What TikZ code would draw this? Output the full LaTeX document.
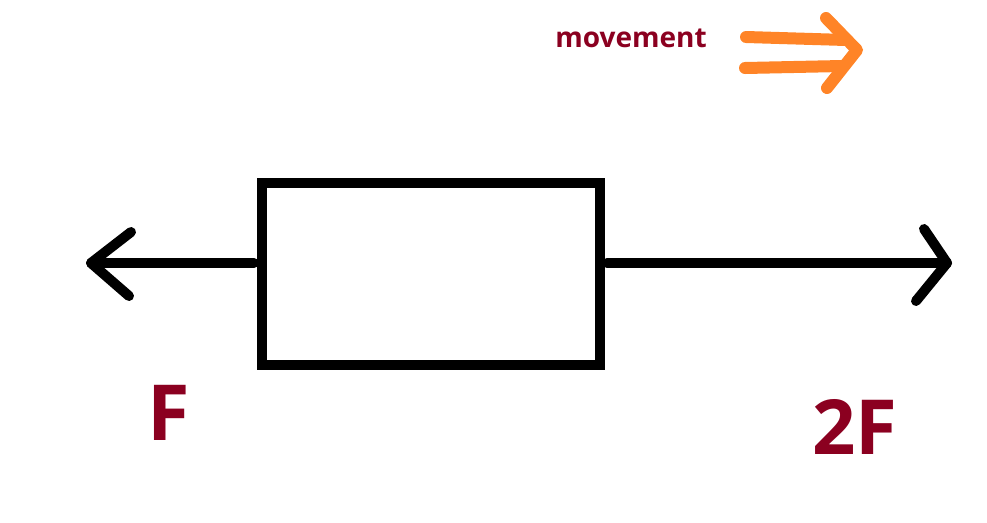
\documentclass[tikz,border=0pt]{standalone}
\usepackage{fontspec}
\setmainfont{Open Sans}
\definecolor{darkred}{RGB}{139,0,32}
\definecolor{movorange}{RGB}{255,132,39}
\tikzset{
  blk/.style={line width=7.5pt, line cap=round, line join=round, draw=black},
  boxst/.style={draw=black, line width=7pt, minimum width=338*0.75pt, minimum height=182*0.75pt, inner sep=0pt},
  org/.style={line width=9pt, line cap=round, line join=round, draw=movorange},
  lbl/.style={text=darkred, font=\bfseries, inner sep=0pt},
}
\begin{document}
\begin{tikzpicture}[x=0.75pt,y=-0.75pt]
\useasboundingbox (0,0) rectangle (987,522);
\node[boxst] (box) at (431,274) {};
% left arrow
\coordinate (ltip) at (91,263);
\coordinate (lup) at (131,232);
\coordinate (llo) at (129,296);
\coordinate (lst) at (254,263);
\draw[blk] (lst) -- (ltip);
\draw[blk] (lup) -- (ltip) -- (llo);
% right arrow
\coordinate (rst) at (607,263);
\coordinate (rtip) at (947,263);
\coordinate (rup) at (924,229);
\coordinate (rlo) at (916,301);
\draw[blk] (rst) -- (rtip);
\draw[blk] (rup) -- (rtip) -- (rlo);
% movement arrow
\coordinate (m1s) at (746,37);
\coordinate (m1e) at (846,40);
\coordinate (m2s) at (745,68);
\coordinate (m2e) at (842,66);
\coordinate (mup) at (826,18);
\coordinate (mtip) at (857,50);
\coordinate (mlo) at (827,88);
\draw[org] (m1s) -- (m1e);
\draw[org] (m2s) -- (m2e);
\draw[org] (mup) -- (mtip) -- (mlo);
\node[lbl, font=\bfseries\fontsize{21pt}{24pt}\selectfont] (mov) at (631,38) {movement};
\node[lbl, font=\bfseries\fontsize{58pt}{64pt}\selectfont] (f) at (169,413) {F};
\node[lbl, font=\bfseries\fontsize{57pt}{64pt}\selectfont] (f2) at (855,427) {2F};
\end{tikzpicture}
\end{document}
